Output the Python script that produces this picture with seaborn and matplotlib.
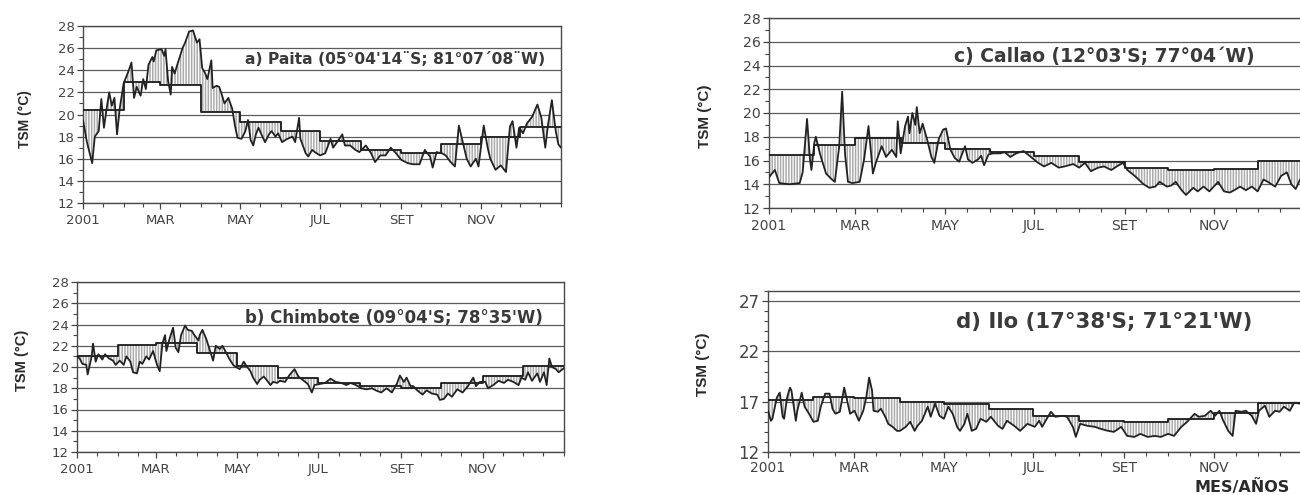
import numpy as np
import matplotlib
matplotlib.use("Agg")
import matplotlib.pyplot as plt
import seaborn as sns
from matplotlib.ticker import FixedLocator, MultipleLocator

sns.set_theme(style="white")
plt.rcParams["font.family"] = ["DejaVu Sans"]
plt.rcParams["hatch.color"] = "#2a2a2a"
plt.rcParams["hatch.linewidth"] = 0.9

# Eje temporal: dias desde el 1 de enero de 2001
INICIO_MES = [0, 31, 59, 90, 120, 151, 181, 212, 243, 273, 304, 334, 365]
ETIQ_DIAS = [0, 59, 120, 181, 243, 304]
ETIQ_MES = ["2001", "MAR", "MAY", "JUL", "SET", "NOV"]

# a) Paita: TSM diaria y promedio mensual
a_dia = [0, 3, 7, 9, 12, 14, 16, 18, 20, 22,
         24, 26, 28, 31, 35, 37, 39, 41, 44, 46,
         48, 50, 53, 54, 56, 60, 62, 63, 65, 67,
         68, 70, 72, 76, 78, 81, 84, 87, 89, 91,
         93, 95, 98, 99, 102, 104, 106, 108, 111, 114,
         116, 118, 121, 124, 126, 128, 130, 132, 134, 137,
         139, 142, 144, 147, 149, 152, 156, 160, 162, 165,
         166, 170, 172, 175, 177, 181, 185, 189, 191, 194,
         198, 200, 204, 208, 211, 216, 220, 223, 227, 231,
         235, 239, 243, 248, 252, 257, 261, 265, 267, 270,
         274, 277, 280, 284, 287, 289, 293, 296, 300, 302,
         306, 309, 311, 315, 319, 323, 326, 328, 331, 333,
         336, 339, 343, 347, 350, 353, 355, 358, 361, 363,
         365]
a_tsm = [19.5, 17.5, 15.6, 18.0, 18.5, 21.4, 18.8, 20.5, 22.0, 20.8,
         21.5, 18.2, 20.5, 22.8, 24.0, 24.7, 21.5, 22.5, 21.7, 23.2,
         22.3, 24.5, 25.2, 24.8, 25.8, 25.9, 25.3, 25.9, 23.0, 21.8,
         24.3, 23.7, 24.5, 26.0, 26.5, 27.5, 27.6, 26.5, 26.8, 24.2,
         23.8, 23.2, 24.9, 22.4, 22.6, 22.5, 21.8, 21.0, 21.5, 20.5,
         19.0, 17.9, 17.8, 18.5, 19.5, 17.7, 17.2, 18.2, 18.8, 18.0,
         17.5, 18.2, 18.5, 18.0, 18.3, 17.5, 17.8, 18.0, 17.5, 19.7,
         17.8, 16.5, 16.2, 16.8, 16.6, 16.3, 16.5, 17.8, 17.0, 17.5,
         18.2, 17.2, 17.2, 16.8, 16.6, 17.2, 16.5, 15.7, 16.3, 16.3,
         17.0, 16.5, 15.9, 15.6, 15.5, 15.5, 16.8, 16.2, 15.2, 16.6,
         16.5, 16.3, 15.8, 15.3, 19.0, 18.0, 16.0, 15.3, 16.0, 15.3,
         19.0, 17.0, 16.0, 15.0, 15.4, 14.8, 18.9, 19.4, 17.0, 18.8,
         18.3, 19.2, 19.8, 20.9, 19.7, 17.0, 19.0, 21.3, 18.5, 17.3,
         17.0]
a_clim = [20.4, 22.9, 22.7, 20.2, 19.3, 18.5, 17.6, 16.8, 16.5, 17.35, 18.0, 18.9]

# b) Chimbote
b_dia = [0, 2, 4, 7, 8, 11, 12, 14, 16, 19,
         21, 24, 27, 29, 32, 35, 37, 40, 42, 45,
         47, 49, 52, 54, 57, 60, 62, 64, 66, 67,
         69, 72, 74, 76, 78, 81, 83, 86, 88, 91,
         92, 94, 97, 99, 102, 104, 107, 109, 112, 114,
         117, 119, 122, 125, 127, 130, 132, 135, 137, 140,
         142, 145, 147, 150, 152, 156, 159, 163, 166, 169,
         173, 176, 178, 182, 186, 190, 194, 198, 202, 205,
         209, 213, 217, 221, 224, 228, 232, 236, 240, 242,
         245, 247, 250, 252, 255, 259, 262, 266, 270, 272,
         275, 278, 281, 285, 289, 293, 297, 299, 302, 306,
         308, 312, 316, 320, 323, 327, 331, 333, 336, 338,
         341, 345, 347, 350, 352, 354, 356, 359, 361, 365]
b_tsm = [21.0, 20.8, 20.3, 20.2, 19.3, 21.0, 22.2, 20.5, 21.2, 20.7,
         21.2, 20.8, 20.6, 20.2, 20.6, 20.2, 21.0, 20.5, 19.5, 19.4,
         20.5, 20.3, 21.0, 20.7, 21.5, 20.2, 19.6, 22.2, 23.0, 21.5,
         22.5, 23.7, 21.8, 21.4, 23.0, 23.9, 23.5, 23.4, 23.0, 22.5,
         23.0, 23.5, 22.6, 21.8, 20.6, 22.0, 21.7, 22.0, 21.3, 20.8,
         20.2, 20.0, 19.8, 20.5, 20.1, 19.6, 19.0, 18.4, 18.8, 19.1,
         18.8, 18.3, 18.6, 18.5, 18.7, 18.6, 19.2, 19.8, 19.1, 18.8,
         18.4, 17.6, 18.3, 18.4, 18.5, 18.9, 18.6, 18.5, 18.3, 18.5,
         18.3, 18.0, 17.9, 18.0, 17.8, 17.6, 18.0, 17.6, 18.5, 19.2,
         18.6, 19.0, 18.2, 18.2, 17.8, 17.4, 17.8, 17.5, 17.4, 16.9,
         17.0, 17.5, 17.2, 17.9, 17.6, 18.2, 19.0, 18.2, 18.6, 18.6,
         18.0, 18.3, 18.7, 18.5, 18.8, 18.6, 18.3, 19.0, 18.8, 19.5,
         18.7, 19.4, 18.6, 19.5, 18.3, 20.8, 20.0, 19.8, 19.5, 19.9]
b_clim = [21.0, 22.05, 22.25, 21.3, 20.1, 19.0, 18.5, 18.2, 18.0, 18.5, 19.2, 20.1]

# c) Callao
c_dia = [0, 4, 7, 14, 21, 23, 26, 28, 29, 31,
         32, 35, 39, 43, 45, 48, 50, 52, 54, 57,
         62, 65, 68, 70, 71, 73, 77, 80, 84, 87,
         88, 90, 93, 95, 96, 98, 100, 101, 103, 105,
         108, 111, 113, 116, 119, 121, 124, 127, 130, 134,
         136, 139, 143, 145, 147, 150, 153, 158, 161, 165,
         169, 174, 178, 184, 188, 193, 198, 202, 208, 212,
         216, 220, 225, 229, 234, 239, 242, 245, 250, 256,
         260, 264, 267, 272, 275, 278, 282, 285, 290, 293,
         297, 301, 304, 307, 311, 315, 318, 322, 326, 330,
         334, 338, 341, 346, 350, 354, 357, 360, 363, 365]
c_tsm = [14.6, 15.2, 14.1, 14.0, 14.1, 15.0, 19.5, 16.1, 15.2, 17.5,
         18.0, 16.5, 14.9, 14.4, 14.2, 17.2, 21.8, 16.5, 14.2, 14.1,
         14.2, 16.1, 18.9, 16.3, 14.9, 15.8, 17.2, 16.3, 16.9, 16.3,
         19.3, 16.6, 18.9, 19.7, 18.3, 20.0, 19.0, 20.5, 18.3, 19.1,
         17.8, 16.3, 15.8, 17.8, 18.6, 18.7, 16.9, 16.2, 15.9, 17.2,
         16.1, 15.8, 16.1, 16.4, 15.6, 16.5, 16.6, 16.6, 16.7, 16.3,
         16.6, 16.8, 16.4, 15.8, 15.5, 15.8, 15.4, 15.5, 15.7, 15.4,
         15.8, 15.1, 15.4, 15.5, 15.2, 15.6, 15.8, 15.2, 14.7, 14.0,
         13.7, 13.8, 14.2, 13.8, 13.9, 14.2, 13.5, 13.1, 13.7, 13.4,
         13.8, 13.4, 13.8, 14.2, 13.4, 13.3, 13.5, 13.8, 13.5, 13.8,
         13.4, 14.4, 14.2, 13.8, 14.7, 15.0, 14.0, 13.6, 14.4, 14.6]
c_clim = [16.5, 17.3, 17.9, 17.5, 17.0, 16.7, 16.4, 15.9, 15.4, 15.2, 15.3, 16.0]

# d) Ilo
d_dia = [0, 2, 3, 6, 8, 10, 11, 13, 15, 16,
         19, 20, 23, 25, 28, 31, 34, 36, 39, 42,
         44, 46, 49, 52, 54, 56, 59, 62, 65, 67,
         69, 71, 72, 75, 77, 80, 82, 85, 88, 90,
         94, 97, 100, 102, 105, 109, 111, 114, 117, 120,
         123, 126, 129, 131, 134, 136, 139, 142, 145, 149,
         152, 157, 160, 163, 168, 172, 177, 182, 185, 187,
         191, 193, 196, 201, 204, 208, 210, 213, 218, 223,
         227, 232, 236, 241, 245, 250, 254, 259, 264, 268,
         273, 277, 282, 286, 291, 294, 298, 302, 305, 308,
         310, 314, 317, 319, 323, 326, 330, 333, 335, 339,
         342, 346, 349, 352, 356, 359, 363, 365]
d_tsm = [16.1, 15.1, 15.3, 17.4, 17.9, 15.5, 15.3, 17.4, 18.4, 18.1,
         15.1, 16.1, 17.9, 16.5, 15.8, 15.0, 15.1, 16.5, 17.8, 17.8,
         16.3, 15.8, 16.0, 18.4, 17.1, 15.8, 16.1, 15.1, 16.1, 17.4,
         19.4, 18.1, 16.1, 16.0, 16.3, 15.5, 14.8, 14.5, 14.1, 14.1,
         14.5, 15.0, 14.1, 14.6, 15.1, 16.5, 15.5, 16.8, 15.6, 15.3,
         16.5, 15.8, 14.5, 14.1, 14.8, 15.8, 14.1, 14.3, 15.3, 15.0,
         15.5, 14.6, 14.3, 15.1, 14.6, 14.1, 14.8, 14.5, 15.1, 14.5,
         15.5, 16.0, 15.5, 15.6, 15.5, 14.5, 13.5, 14.8, 14.6, 14.5,
         14.3, 14.1, 14.0, 14.5, 13.6, 13.5, 13.8, 13.5, 13.6, 13.5,
         13.8, 13.6, 14.5, 15.0, 15.8, 15.5, 15.6, 16.1, 15.6, 16.1,
         15.3, 14.1, 13.6, 16.1, 16.0, 16.1, 15.6, 14.8, 16.1, 16.6,
         15.5, 16.1, 16.0, 16.5, 16.1, 16.9, 16.8, 16.6]
d_clim = [17.2, 17.45, 17.35, 16.95, 16.8, 16.3, 15.55, 15.1, 15.0, 15.3, 15.9, 16.9]

TITULOS = ["a) Paita (05°04'14¨S; 81°07´08¨W)",
           "b) Chimbote (09°04'S; 78°35'W)",
           "c) Callao (12°03'S; 77°04´W)",
           "d) Ilo (17°38'S; 71°21'W)"]

W, H = 1300, 495
fig = plt.figure(figsize=(W / 100, H / 100), dpi=100)


def caja(izq, der, arr, aba):
    """Axes rectangle from pixel edges."""
    return [izq / W, 1 - aba / H, (der - izq) / W, (aba - arr) / H]


paneles = [
    dict(dia=a_dia, tsm=a_tsm, clim=a_clim, rect=caja(83, 561, 26, 203),
         yt=list(range(12, 29, 2)), tit=TITULOS[0], tx=0.654, ty=0.81,
         tfs=11.2, yfs=9.5, xfs=9.5, xpad=4, ylab=(25, 119), ylfs=10),
    dict(dia=b_dia, tsm=b_tsm, clim=b_clim, rect=caja(77, 564, 282, 452),
         yt=list(range(12, 29, 2)), tit=TITULOS[1], tx=0.650, ty=0.79,
         tfs=12.0, yfs=9.5, xfs=9.5, xpad=4, ylab=(22, 360), ylfs=10.5),
    dict(dia=c_dia, tsm=c_tsm, clim=c_clim, rect=caja(769, 1303, 18, 208),
         yt=list(range(12, 29, 2)), tit=TITULOS[2], tx=0.627, ty=0.795,
         tfs=13.5, yfs=10.2, xfs=10, xpad=4, ylab=(705, 116), ylfs=11),
    dict(dia=d_dia, tsm=d_tsm, clim=d_clim, rect=caja(768, 1303, 291, 452),
         yt=[12, 17, 22, 27], tit=TITULOS[3], tx=0.629, ty=0.81,
         tfs=15.3, yfs=12, xfs=10, xpad=2.5, ylab=(703, 364), ylfs=11),
]

ini = np.array(INICIO_MES)
for p in paneles:
    assert len(p["dia"]) == len(p["tsm"])
    ax = fig.add_axes(p["rect"])
    dia = np.array(p["dia"], dtype=float)
    tsm = np.array(p["tsm"], dtype=float)
    clim = np.array(p["clim"], dtype=float)

    # area between the daily series and the monthly mean, hatched vertically
    xf = np.linspace(0, 365, 3651)
    yf = np.interp(xf, dia, tsm)
    mes = np.clip(np.searchsorted(ini, xf, side="right") - 1, 0, 11)
    ax.fill_between(xf, yf, clim[mes], facecolor="#ababab", hatch="||||||",
                    linewidth=0, zorder=1)

    # monthly mean as a step line
    sns.lineplot(x=INICIO_MES, y=list(clim) + [clim[-1]], ax=ax,
                 drawstyle="steps-post", color="#1a1a1a", linewidth=1.3,
                 estimator=None, sort=False, zorder=3)
    # daily sea surface temperature
    sns.lineplot(x=dia, y=tsm, ax=ax, color="#222222", linewidth=1.3,
                 estimator=None, sort=False, zorder=4)

    ax.set_xlim(0, 365)
    ax.set_ylim(12, 28)
    ax.set_xlabel("")
    ax.set_ylabel("")
    ax.xaxis.set_major_locator(FixedLocator(ETIQ_DIAS))
    ax.set_xticklabels(ETIQ_MES)
    ax.xaxis.set_minor_locator(FixedLocator(sorted(set(INICIO_MES + [m + 15 for m in INICIO_MES[:-1]]))))
    ax.yaxis.set_major_locator(FixedLocator(p["yt"]))
    ax.yaxis.set_minor_locator(MultipleLocator(1))
    ax.set_axisbelow(True)
    ax.yaxis.grid(True, which="major", color="#5c5c5c", linewidth=0.9)
    ax.xaxis.grid(False)
    ax.tick_params(which="both", bottom=True, left=True, direction="out",
                   colors="#444444", pad=2)
    ax.tick_params(axis="y", labelsize=p["yfs"])
    ax.tick_params(axis="x", labelsize=p["xfs"], pad=p["xpad"])
    ax.tick_params(which="major", length=4, width=0.9)
    ax.tick_params(which="minor", length=3, width=0.8)
    for s in ax.spines.values():
        s.set_color("#4a4a4a")
        s.set_linewidth(1.0)

    ax.text(p["tx"], p["ty"], p["tit"], transform=ax.transAxes, ha="center",
            va="center", fontsize=p["tfs"], fontweight="bold", color="#3a3a3a",
            zorder=6)
    fig.text(p["ylab"][0] / W, 1 - p["ylab"][1] / H, "TSM (°C)", rotation=90,
             ha="center", va="center", fontsize=p["ylfs"], fontweight="bold",
             color="#2a2a2a", family=["Liberation Sans", "DejaVu Sans"])

fig.text(1242 / W, 1 - 495 / H, "MES/AÑOS", ha="center", va="bottom",
         fontsize=11.5, fontweight="bold", color="#2a2a2a")

fig.savefig("out.png", dpi=100, facecolor="white")
